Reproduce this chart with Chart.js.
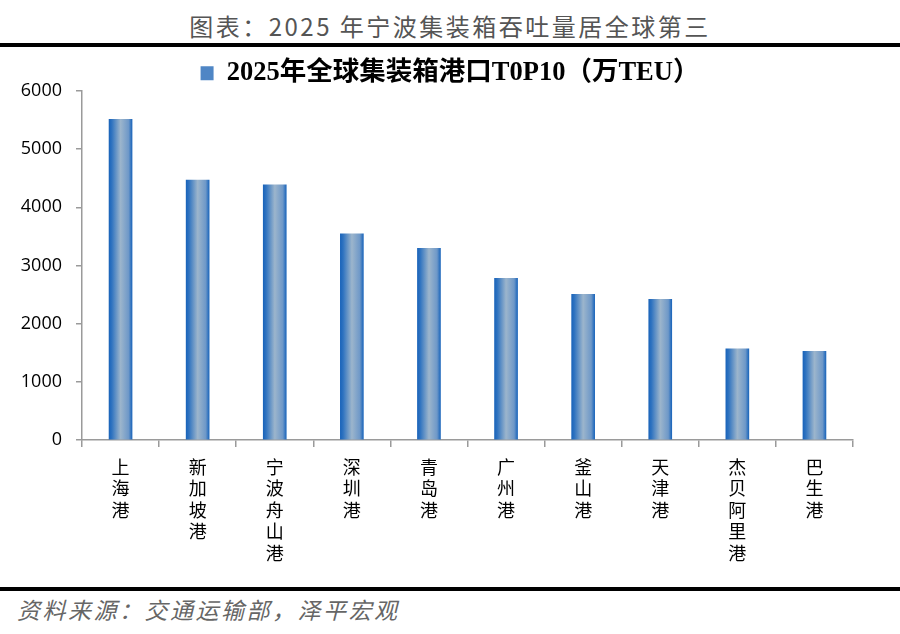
<!DOCTYPE html>
<html>
<head>
<meta charset="utf-8">
<script src="https://cdn.jsdelivr.net/npm/chart.js@4"></script>
<style>
    html, body { margin: 0; padding: 0; background: #fff; }
    #page { position: relative; width: 900px; height: 634px; overflow: hidden; }
    #title {
        position: absolute; left: 0; top: 10px; width: 900px; text-align: center;
        font-family: "Noto Sans CJK SC", sans-serif; font-size: 24px; line-height: 32px;
        color: #555; letter-spacing: 2.5px;
    }
    .rule { position: absolute; left: 0; width: 900px; height: 4px; background: #000; }
    #source {
        position: absolute; left: 17px; top: 594px;
        font-family: "Noto Sans CJK SC", sans-serif; font-size: 23px; line-height: 30px;
        font-style: italic; color: #666; letter-spacing: 2.5px;
    }
    #wrap { position: absolute; left: 0; top: 46px; width: 900px; height: 540px; }
</style>
</head>
<body>
<div id="page">
    <div id="title">图表：2025 年宁波集装箱吞吐量居全球第三</div>
    <div class="rule" style="top:43px"></div>
    <div id="wrap"><canvas id="chart"></canvas></div>
    <div class="rule" style="top:587px"></div>
    <div id="source">资料来源：交通运输部，泽平宏观</div>
</div>
<script>
const seriesName = '2025年全球集装箱港口T0P10（万TEU）';
const ports = ['上海港', '新加坡港', '宁波舟山港', '深圳港', '青岛港', '广州港', '釜山港', '天津港', '杰贝阿里港', '巴生港'];
const throughput = [5515, 4467, 4387, 3545, 3294, 2778, 2503, 2418, 1569, 1524];
const yTicks = [0, 1000, 2000, 3000, 4000, 5000, 6000];

const BAR_W = 23;

// vertical labels: one character per line
const portLabels = ports.map(p => p.split(''));

function barFill(c) {
    if (c.type !== 'data' || !c.chart.scales.x) return '#3f7dc4';
    const cx = c.chart.scales.x.getPixelForValue(c.dataIndex);
    const g = c.chart.ctx.createLinearGradient(cx - BAR_W / 2, 0, cx + BAR_W / 2, 0);
    g.addColorStop(0, '#1a64ba');
    g.addColorStop(0.12, '#2f73c0');
    g.addColorStop(0.5, '#9cb5cc');
    g.addColorStop(0.85, '#6e98c8');
    g.addColorStop(1, '#1c66bb');
    return g;
}

new Chart(document.getElementById('chart'), {
    type: 'bar',
    data: {
        labels: portLabels,
        datasets: [{
            label: seriesName,
            data: throughput,
            backgroundColor: barFill,
            borderWidth: 0,
            barThickness: BAR_W
        }]
    },
    options: {
        responsive: true,
        maintainAspectRatio: false,
        animation: false,
        layout: { padding: 0 },
        scales: {
            x: {
                grid: { display: true, drawOnChartArea: false, drawTicks: true, tickLength: 7, color: '#9a9a9a', lineWidth: 1.5 },
                border: { display: true, color: '#9a9a9a', width: 1.5 },
                ticks: {
                    autoSkip: false, maxRotation: 0, minRotation: 0, padding: 9,
                    color: '#000',
                    font: { family: '"Noto Sans CJK SC", sans-serif', size: 18, lineHeight: 1.2 }
                },
                afterFit: s => { s.height = 146; }
            },
            y: {
                min: 0,
                max: 6000,
                afterBuildTicks: s => { s.ticks = yTicks.map(v => ({ value: v })); },
                grid: { display: true, drawOnChartArea: false, drawTicks: true, tickLength: 6, color: '#9a9a9a', lineWidth: 1.5 },
                border: { display: true, color: '#9a9a9a', width: 1.5 },
                ticks: {
                    padding: 14, color: '#000',
                    font: { family: '"Open Sans", sans-serif', size: 18 },
                    callback: v => String(v)
                },
                afterFit: s => { s.width = 82; }
            },
            // empty spacer on the right so the legend stays centred on the page
            spacer: {
                type: 'linear',
                position: 'right',
                grid: { display: false },
                border: { display: false },
                ticks: { display: false },
                afterFit: s => { s.width = 47; }
            }
        },
        plugins: {
            legend: {
                position: 'top',
                maxHeight: 45,
                labels: {
                    boxWidth: 13,
                    boxHeight: 14,
                    padding: 14,
                    color: '#000',
                    font: { family: '"Liberation Serif", "Noto Sans CJK SC", serif', size: 26.5, weight: 'bold' },
                    generateLabels: chart => [{
                        text: seriesName,
                        fillStyle: '#4f86c5',
                        strokeStyle: '#4f86c5',
                        lineWidth: 0,
                        datasetIndex: 0
                    }]
                }
            },
            tooltip: { enabled: false }
        }
    }
});
</script>
</body>
</html>
